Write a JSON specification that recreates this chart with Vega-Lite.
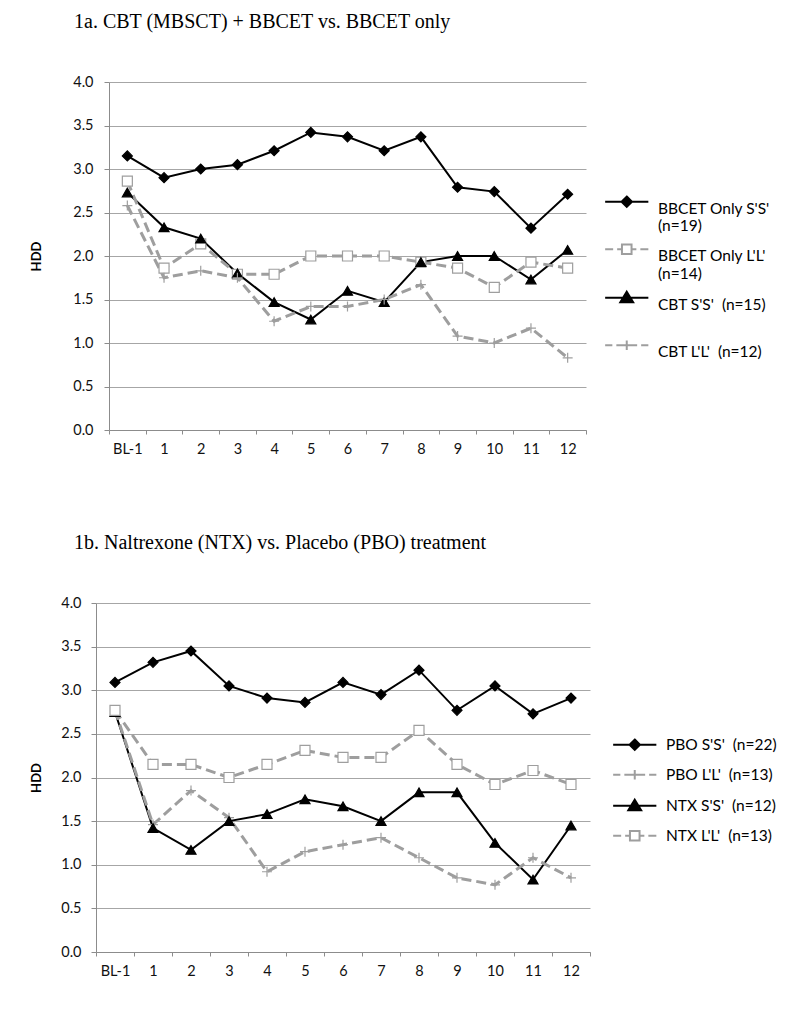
{
  "$schema": "https://vega.github.io/schema/vega-lite/v6.json",
  "padding": {"left": 30, "top": 12, "right": 10, "bottom": 5},
  "background": "white",
  "spacing": 77,
  "resolve": {
    "scale": {"x": "independent", "y": "independent", "stroke": "independent", "fill": "independent", "shape": "independent"},
    "legend": {"stroke": "independent", "fill": "independent", "shape": "independent"}
  },
  "config": {
    "view": {"stroke": null},
    "axis": {
      "labelFont": "Lato", "labelFontSize": 14.5, "labelColor": "#111",
      "domainColor": "#8c8c8c", "tickColor": "#8c8c8c", "gridColor": "#a6a6a6",
      "titleFont": "Lato", "titleFontSize": 13, "titleFontWeight": "bold", "titleColor": "#000"
    },
    "legend": {
      "title": null, "orient": "none", "padding": 0, "symbolSize": 64, "symbolStrokeWidth": 2, "labelOffset": 23.5,
      "labelFont": "Lato", "labelFontSize": 15.5, "labelColor": "#000", "labelLimit": 300
    },
    "title": {"font": "Liberation Serif", "fontSize": 20, "fontWeight": "normal", "color": "#000", "anchor": "start", "frame": "group"}
  },
  "datasets": {
    "a": [
      {"series": "BBCET Only S'S' (n=19)", "visit": "BL-1", "HDD": 3.15},
      {"series": "BBCET Only S'S' (n=19)", "visit": "1", "HDD": 2.90},
      {"series": "BBCET Only S'S' (n=19)", "visit": "2", "HDD": 3.00},
      {"series": "BBCET Only S'S' (n=19)", "visit": "3", "HDD": 3.05},
      {"series": "BBCET Only S'S' (n=19)", "visit": "4", "HDD": 3.21},
      {"series": "BBCET Only S'S' (n=19)", "visit": "5", "HDD": 3.42},
      {"series": "BBCET Only S'S' (n=19)", "visit": "6", "HDD": 3.37},
      {"series": "BBCET Only S'S' (n=19)", "visit": "7", "HDD": 3.21},
      {"series": "BBCET Only S'S' (n=19)", "visit": "8", "HDD": 3.37},
      {"series": "BBCET Only S'S' (n=19)", "visit": "9", "HDD": 2.79},
      {"series": "BBCET Only S'S' (n=19)", "visit": "10", "HDD": 2.74},
      {"series": "BBCET Only S'S' (n=19)", "visit": "11", "HDD": 2.32},
      {"series": "BBCET Only S'S' (n=19)", "visit": "12", "HDD": 2.71},
      {"series": "BBCET Only L'L' (n=14)", "visit": "BL-1", "HDD": 2.86},
      {"series": "BBCET Only L'L' (n=14)", "visit": "1", "HDD": 1.86},
      {"series": "BBCET Only L'L' (n=14)", "visit": "2", "HDD": 2.14},
      {"series": "BBCET Only L'L' (n=14)", "visit": "3", "HDD": 1.79},
      {"series": "BBCET Only L'L' (n=14)", "visit": "4", "HDD": 1.79},
      {"series": "BBCET Only L'L' (n=14)", "visit": "5", "HDD": 2.00},
      {"series": "BBCET Only L'L' (n=14)", "visit": "6", "HDD": 2.00},
      {"series": "BBCET Only L'L' (n=14)", "visit": "7", "HDD": 2.00},
      {"series": "BBCET Only L'L' (n=14)", "visit": "8", "HDD": 1.93},
      {"series": "BBCET Only L'L' (n=14)", "visit": "9", "HDD": 1.86},
      {"series": "BBCET Only L'L' (n=14)", "visit": "10", "HDD": 1.64},
      {"series": "BBCET Only L'L' (n=14)", "visit": "11", "HDD": 1.93},
      {"series": "BBCET Only L'L' (n=14)", "visit": "12", "HDD": 1.86},
      {"series": "CBT S'S'  (n=15)", "visit": "BL-1", "HDD": 2.73},
      {"series": "CBT S'S'  (n=15)", "visit": "1", "HDD": 2.33},
      {"series": "CBT S'S'  (n=15)", "visit": "2", "HDD": 2.20},
      {"series": "CBT S'S'  (n=15)", "visit": "3", "HDD": 1.80},
      {"series": "CBT S'S'  (n=15)", "visit": "4", "HDD": 1.47},
      {"series": "CBT S'S'  (n=15)", "visit": "5", "HDD": 1.27},
      {"series": "CBT S'S'  (n=15)", "visit": "6", "HDD": 1.60},
      {"series": "CBT S'S'  (n=15)", "visit": "7", "HDD": 1.47},
      {"series": "CBT S'S'  (n=15)", "visit": "8", "HDD": 1.93},
      {"series": "CBT S'S'  (n=15)", "visit": "9", "HDD": 2.00},
      {"series": "CBT S'S'  (n=15)", "visit": "10", "HDD": 2.00},
      {"series": "CBT S'S'  (n=15)", "visit": "11", "HDD": 1.73},
      {"series": "CBT S'S'  (n=15)", "visit": "12", "HDD": 2.07},
      {"series": "CBT L'L'  (n=12)", "visit": "BL-1", "HDD": 2.58},
      {"series": "CBT L'L'  (n=12)", "visit": "1", "HDD": 1.75},
      {"series": "CBT L'L'  (n=12)", "visit": "2", "HDD": 1.83},
      {"series": "CBT L'L'  (n=12)", "visit": "3", "HDD": 1.75},
      {"series": "CBT L'L'  (n=12)", "visit": "4", "HDD": 1.25},
      {"series": "CBT L'L'  (n=12)", "visit": "5", "HDD": 1.42},
      {"series": "CBT L'L'  (n=12)", "visit": "6", "HDD": 1.42},
      {"series": "CBT L'L'  (n=12)", "visit": "7", "HDD": 1.50},
      {"series": "CBT L'L'  (n=12)", "visit": "8", "HDD": 1.67},
      {"series": "CBT L'L'  (n=12)", "visit": "9", "HDD": 1.08},
      {"series": "CBT L'L'  (n=12)", "visit": "10", "HDD": 1.00},
      {"series": "CBT L'L'  (n=12)", "visit": "11", "HDD": 1.17},
      {"series": "CBT L'L'  (n=12)", "visit": "12", "HDD": 0.83}
    ],
    "b": [
      {"series": "PBO S'S'  (n=22)", "visit": "BL-1", "HDD": 3.09},
      {"series": "PBO S'S'  (n=22)", "visit": "1", "HDD": 3.32},
      {"series": "PBO S'S'  (n=22)", "visit": "2", "HDD": 3.45},
      {"series": "PBO S'S'  (n=22)", "visit": "3", "HDD": 3.05},
      {"series": "PBO S'S'  (n=22)", "visit": "4", "HDD": 2.91},
      {"series": "PBO S'S'  (n=22)", "visit": "5", "HDD": 2.86},
      {"series": "PBO S'S'  (n=22)", "visit": "6", "HDD": 3.09},
      {"series": "PBO S'S'  (n=22)", "visit": "7", "HDD": 2.95},
      {"series": "PBO S'S'  (n=22)", "visit": "8", "HDD": 3.23},
      {"series": "PBO S'S'  (n=22)", "visit": "9", "HDD": 2.77},
      {"series": "PBO S'S'  (n=22)", "visit": "10", "HDD": 3.05},
      {"series": "PBO S'S'  (n=22)", "visit": "11", "HDD": 2.73},
      {"series": "PBO S'S'  (n=22)", "visit": "12", "HDD": 2.91},
      {"series": "PBO L'L'  (n=13)", "visit": "BL-1", "HDD": 2.77},
      {"series": "PBO L'L'  (n=13)", "visit": "1", "HDD": 1.46},
      {"series": "PBO L'L'  (n=13)", "visit": "2", "HDD": 1.85},
      {"series": "PBO L'L'  (n=13)", "visit": "3", "HDD": 1.54},
      {"series": "PBO L'L'  (n=13)", "visit": "4", "HDD": 0.92},
      {"series": "PBO L'L'  (n=13)", "visit": "5", "HDD": 1.15},
      {"series": "PBO L'L'  (n=13)", "visit": "6", "HDD": 1.23},
      {"series": "PBO L'L'  (n=13)", "visit": "7", "HDD": 1.31},
      {"series": "PBO L'L'  (n=13)", "visit": "8", "HDD": 1.08},
      {"series": "PBO L'L'  (n=13)", "visit": "9", "HDD": 0.85},
      {"series": "PBO L'L'  (n=13)", "visit": "10", "HDD": 0.77},
      {"series": "PBO L'L'  (n=13)", "visit": "11", "HDD": 1.08},
      {"series": "PBO L'L'  (n=13)", "visit": "12", "HDD": 0.85},
      {"series": "NTX S'S'  (n=12)", "visit": "BL-1", "HDD": 2.75},
      {"series": "NTX S'S'  (n=12)", "visit": "1", "HDD": 1.42},
      {"series": "NTX S'S'  (n=12)", "visit": "2", "HDD": 1.17},
      {"series": "NTX S'S'  (n=12)", "visit": "3", "HDD": 1.50},
      {"series": "NTX S'S'  (n=12)", "visit": "4", "HDD": 1.58},
      {"series": "NTX S'S'  (n=12)", "visit": "5", "HDD": 1.75},
      {"series": "NTX S'S'  (n=12)", "visit": "6", "HDD": 1.67},
      {"series": "NTX S'S'  (n=12)", "visit": "7", "HDD": 1.50},
      {"series": "NTX S'S'  (n=12)", "visit": "8", "HDD": 1.83},
      {"series": "NTX S'S'  (n=12)", "visit": "9", "HDD": 1.83},
      {"series": "NTX S'S'  (n=12)", "visit": "10", "HDD": 1.25},
      {"series": "NTX S'S'  (n=12)", "visit": "11", "HDD": 0.83},
      {"series": "NTX S'S'  (n=12)", "visit": "12", "HDD": 1.45},
      {"series": "NTX L'L'  (n=13)", "visit": "BL-1", "HDD": 2.77},
      {"series": "NTX L'L'  (n=13)", "visit": "1", "HDD": 2.15},
      {"series": "NTX L'L'  (n=13)", "visit": "2", "HDD": 2.15},
      {"series": "NTX L'L'  (n=13)", "visit": "3", "HDD": 2.00},
      {"series": "NTX L'L'  (n=13)", "visit": "4", "HDD": 2.15},
      {"series": "NTX L'L'  (n=13)", "visit": "5", "HDD": 2.31},
      {"series": "NTX L'L'  (n=13)", "visit": "6", "HDD": 2.23},
      {"series": "NTX L'L'  (n=13)", "visit": "7", "HDD": 2.23},
      {"series": "NTX L'L'  (n=13)", "visit": "8", "HDD": 2.54},
      {"series": "NTX L'L'  (n=13)", "visit": "9", "HDD": 2.15},
      {"series": "NTX L'L'  (n=13)", "visit": "10", "HDD": 1.92},
      {"series": "NTX L'L'  (n=13)", "visit": "11", "HDD": 2.08},
      {"series": "NTX L'L'  (n=13)", "visit": "12", "HDD": 1.92}
    ]
  },
  "vconcat": [
    {
      "title": {"text": "1a. CBT (MBSCT) + BBCET vs. BBCET only", "dx": -35, "offset": 42},
      "width": 477,
      "height": 348,
      "data": {"name": "a"},
      "resolve": {"scale": {"shape": "independent", "fill": "independent", "stroke": "independent"}},
      "encoding": {
        "x": {"field": "visit", "type": "ordinal", "bandPosition": 0.5,
          "scale": {"type": "band", "paddingInner": 0, "paddingOuter": 0, "domain": ["BL-1","1","2","3","4","5","6","7","8","9","10","11","12"]},
          "axis": {"title": null, "labelAngle": 0, "tickBand": "extent", "tickSize": 4, "labelPadding": 8, "grid": false}},
        "y": {"field": "HDD", "type": "quantitative",
          "scale": {"domain": [0, 4], "nice": false},
          "axis": {"title": "HDD", "values": [0,0.5,1,1.5,2,2.5,3,3.5,4], "format": ".1f", "grid": true, "tickSize": 5, "labelPadding": 11, "titlePadding": 29}}
      },
      "layer": [
        {
          "transform": [{"filter": "indexof(datum.series, 'L') < 0"}],
          "mark": {"type": "line", "strokeWidth": 2, "color": "#000000"},
          "encoding": {"detail": {"field": "series", "type": "nominal"}}
        },
        {
          "transform": [{"filter": "indexof(datum.series, 'L') >= 0"}],
          "mark": {"type": "line", "strokeWidth": 3, "strokeDash": [10, 5], "color": "#9e9e9e"},
          "encoding": {"detail": {"field": "series", "type": "nominal"}}
        },
        {
          "mark": {"type": "point", "size": 100, "strokeWidth": 1.2, "opacity": 1},
          "encoding": {
            "shape": {"field": "series", "type": "nominal", "legend": null,
              "scale": {"domain": ["BBCET Only S'S' (n=19)", "BBCET Only L'L' (n=14)", "CBT S'S'  (n=15)", "CBT L'L'  (n=12)"], "range": ["diamond", "square", "triangle-up", "M-1,0H1M0,-1V1"]}},
            "fill": {"field": "series", "type": "nominal", "legend": null,
              "scale": {"domain": ["BBCET Only S'S' (n=19)", "BBCET Only L'L' (n=14)", "CBT S'S'  (n=15)", "CBT L'L'  (n=12)"], "range": ["#000000", "#ffffff", "#000000", "transparent"]}},
            "stroke": {"field": "series", "type": "nominal", "legend": null,
              "scale": {"domain": ["BBCET Only S'S' (n=19)", "BBCET Only L'L' (n=14)", "CBT S'S'  (n=15)", "CBT L'L'  (n=12)"], "range": ["#000000", "#9e9e9e", "#000000", "#9e9e9e"]}}
          }
        },
        {
          "transform": [{"filter": "false"}],
          "mark": {"type": "point", "opacity": 1},
          "encoding": {
            "shape": {"field": "series", "type": "nominal",
              "scale": {"domain": ["BBCET Only S'S' (n=19)", "BBCET Only L'L' (n=14)", "CBT S'S'  (n=15)", "CBT L'L'  (n=12)"], "range": ["M-5.4,0H5.4M0,-1.3L1.3,0L0,1.3L-1.3,0Z", "M-5.4,0H-3.4M-2.4,0H-1.25M1.25,0H2.4M3.4,0H5.4M-1.2,-1.2H1.2V1.2H-1.2Z", "M-5.4,0H5.4M0,-1.5L1.6,1.1L-1.6,1.1Z", "M-5.4,0H-3.6M-2.6,0H-0.8M0.8,0H2.6M3.6,0H5.4M-1.2,0H1.2M0,-1.2V1.2"]},
              "legend": {"legendX": 510, "legendY": 112, "labelBaseline": "top", "rowPadding": 4.5,
                "labelExpr": "indexof(datum.label, 'BBCET') >= 0 ? split(replace(datum.label, ' (n=', '|(n='), '|') : [replace(datum.label, '  ', '\u00a0 '), '']",
                "encode": {"labels": {"update": {"dy": {"value": -6}, "lineHeight": {"value": 21}}}}}},
            "fill": {"field": "series", "type": "nominal",
              "scale": {"domain": ["BBCET Only S'S' (n=19)", "BBCET Only L'L' (n=14)", "CBT S'S'  (n=15)", "CBT L'L'  (n=12)"], "range": ["#000000", "#ffffff", "#000000", "transparent"]},
              "legend": {"legendX": 510, "legendY": 112, "labelBaseline": "top", "rowPadding": 4.5,
                "labelExpr": "indexof(datum.label, 'BBCET') >= 0 ? split(replace(datum.label, ' (n=', '|(n='), '|') : [replace(datum.label, '  ', '\u00a0 '), '']",
                "encode": {"labels": {"update": {"dy": {"value": -6}, "lineHeight": {"value": 21}}}}}},
            "stroke": {"field": "series", "type": "nominal",
              "scale": {"domain": ["BBCET Only S'S' (n=19)", "BBCET Only L'L' (n=14)", "CBT S'S'  (n=15)", "CBT L'L'  (n=12)"], "range": ["#000000", "#9e9e9e", "#000000", "#9e9e9e"]},
              "legend": {"legendX": 510, "legendY": 112, "labelBaseline": "top", "rowPadding": 4.5,
                "labelExpr": "indexof(datum.label, 'BBCET') >= 0 ? split(replace(datum.label, ' (n=', '|(n='), '|') : [replace(datum.label, '  ', '\u00a0 '), '']",
                "encode": {"labels": {"update": {"dy": {"value": -6}, "lineHeight": {"value": 21}}}}}}
          }
        }
      ]
    },
    {
      "title": {"text": "1b. Naltrexone (NTX) vs. Placebo (PBO) treatment", "dx": -35, "offset": 42},
      "width": 481,
      "height": 349,
      "data": {"name": "b"},
      "resolve": {"scale": {"shape": "independent", "fill": "independent", "stroke": "independent"}},
      "encoding": {
        "x": {"field": "visit", "type": "ordinal", "bandPosition": 0.5,
          "scale": {"type": "band", "paddingInner": 0, "paddingOuter": 0, "range": [-13, 481], "domain": ["BL-1","1","2","3","4","5","6","7","8","9","10","11","12"]},
          "axis": {"title": null, "labelAngle": 0, "tickBand": "extent", "tickSize": 4, "labelPadding": 8, "grid": false}},
        "y": {"field": "HDD", "type": "quantitative",
          "scale": {"domain": [0, 4], "nice": false},
          "axis": {"title": "HDD", "offset": 13, "values": [0,0.5,1,1.5,2,2.5,3,3.5,4], "format": ".1f", "grid": true, "tickSize": 5, "labelPadding": 10, "titlePadding": 17}}
      },
      "layer": [
        {
          "transform": [{"filter": "indexof(datum.series, 'L') < 0"}],
          "mark": {"type": "line", "strokeWidth": 2, "color": "#000000"},
          "encoding": {"detail": {"field": "series", "type": "nominal"}}
        },
        {
          "transform": [{"filter": "indexof(datum.series, 'L') >= 0"}],
          "mark": {"type": "line", "strokeWidth": 3, "strokeDash": [10, 5], "color": "#9e9e9e"},
          "encoding": {"detail": {"field": "series", "type": "nominal"}}
        },
        {
          "mark": {"type": "point", "size": 100, "strokeWidth": 1.2, "opacity": 1},
          "encoding": {
            "shape": {"field": "series", "type": "nominal", "legend": null,
              "scale": {"domain": ["PBO S'S'  (n=22)", "PBO L'L'  (n=13)", "NTX S'S'  (n=12)", "NTX L'L'  (n=13)"], "range": ["diamond", "M-1,0H1M0,-1V1", "triangle-up", "square"]}},
            "fill": {"field": "series", "type": "nominal", "legend": null,
              "scale": {"domain": ["PBO S'S'  (n=22)", "PBO L'L'  (n=13)", "NTX S'S'  (n=12)", "NTX L'L'  (n=13)"], "range": ["#000000", "transparent", "#000000", "#ffffff"]}},
            "stroke": {"field": "series", "type": "nominal", "legend": null,
              "scale": {"domain": ["PBO S'S'  (n=22)", "PBO L'L'  (n=13)", "NTX S'S'  (n=12)", "NTX L'L'  (n=13)"], "range": ["#000000", "#9e9e9e", "#000000", "#9e9e9e"]}}
          }
        },
        {
          "transform": [{"filter": "false"}],
          "mark": {"type": "point", "opacity": 1},
          "encoding": {
            "shape": {"field": "series", "type": "nominal",
              "scale": {"domain": ["PBO S'S'  (n=22)", "PBO L'L'  (n=13)", "NTX S'S'  (n=12)", "NTX L'L'  (n=13)"], "range": ["M-5.4,0H5.4M0,-1.3L1.3,0L0,1.3L-1.3,0Z", "M-5.4,0H-3.6M-2.6,0H-0.8M0.8,0H2.6M3.6,0H5.4M-1.2,0H1.2M0,-1.2V1.2", "M-5.4,0H5.4M0,-1.5L1.6,1.1L-1.6,1.1Z", "M-5.4,0H-3.4M-2.4,0H-1.25M1.25,0H2.4M3.4,0H5.4M-1.2,-1.2H1.2V1.2H-1.2Z"]},
              "legend": {"legendX": 518, "legendY": 134, "labelBaseline": "middle", "rowPadding": 11, "labelExpr": "replace(datum.label, '  ', '\u00a0 ')"}},
            "fill": {"field": "series", "type": "nominal",
              "scale": {"domain": ["PBO S'S'  (n=22)", "PBO L'L'  (n=13)", "NTX S'S'  (n=12)", "NTX L'L'  (n=13)"], "range": ["#000000", "transparent", "#000000", "#ffffff"]},
              "legend": {"legendX": 518, "legendY": 134, "labelBaseline": "middle", "rowPadding": 11, "labelExpr": "replace(datum.label, '  ', '\u00a0 ')"}},
            "stroke": {"field": "series", "type": "nominal",
              "scale": {"domain": ["PBO S'S'  (n=22)", "PBO L'L'  (n=13)", "NTX S'S'  (n=12)", "NTX L'L'  (n=13)"], "range": ["#000000", "#9e9e9e", "#000000", "#9e9e9e"]},
              "legend": {"legendX": 518, "legendY": 134, "labelBaseline": "middle", "rowPadding": 11, "labelExpr": "replace(datum.label, '  ', '\u00a0 ')"}}
          }
        }
      ]
    }
  ]
}
